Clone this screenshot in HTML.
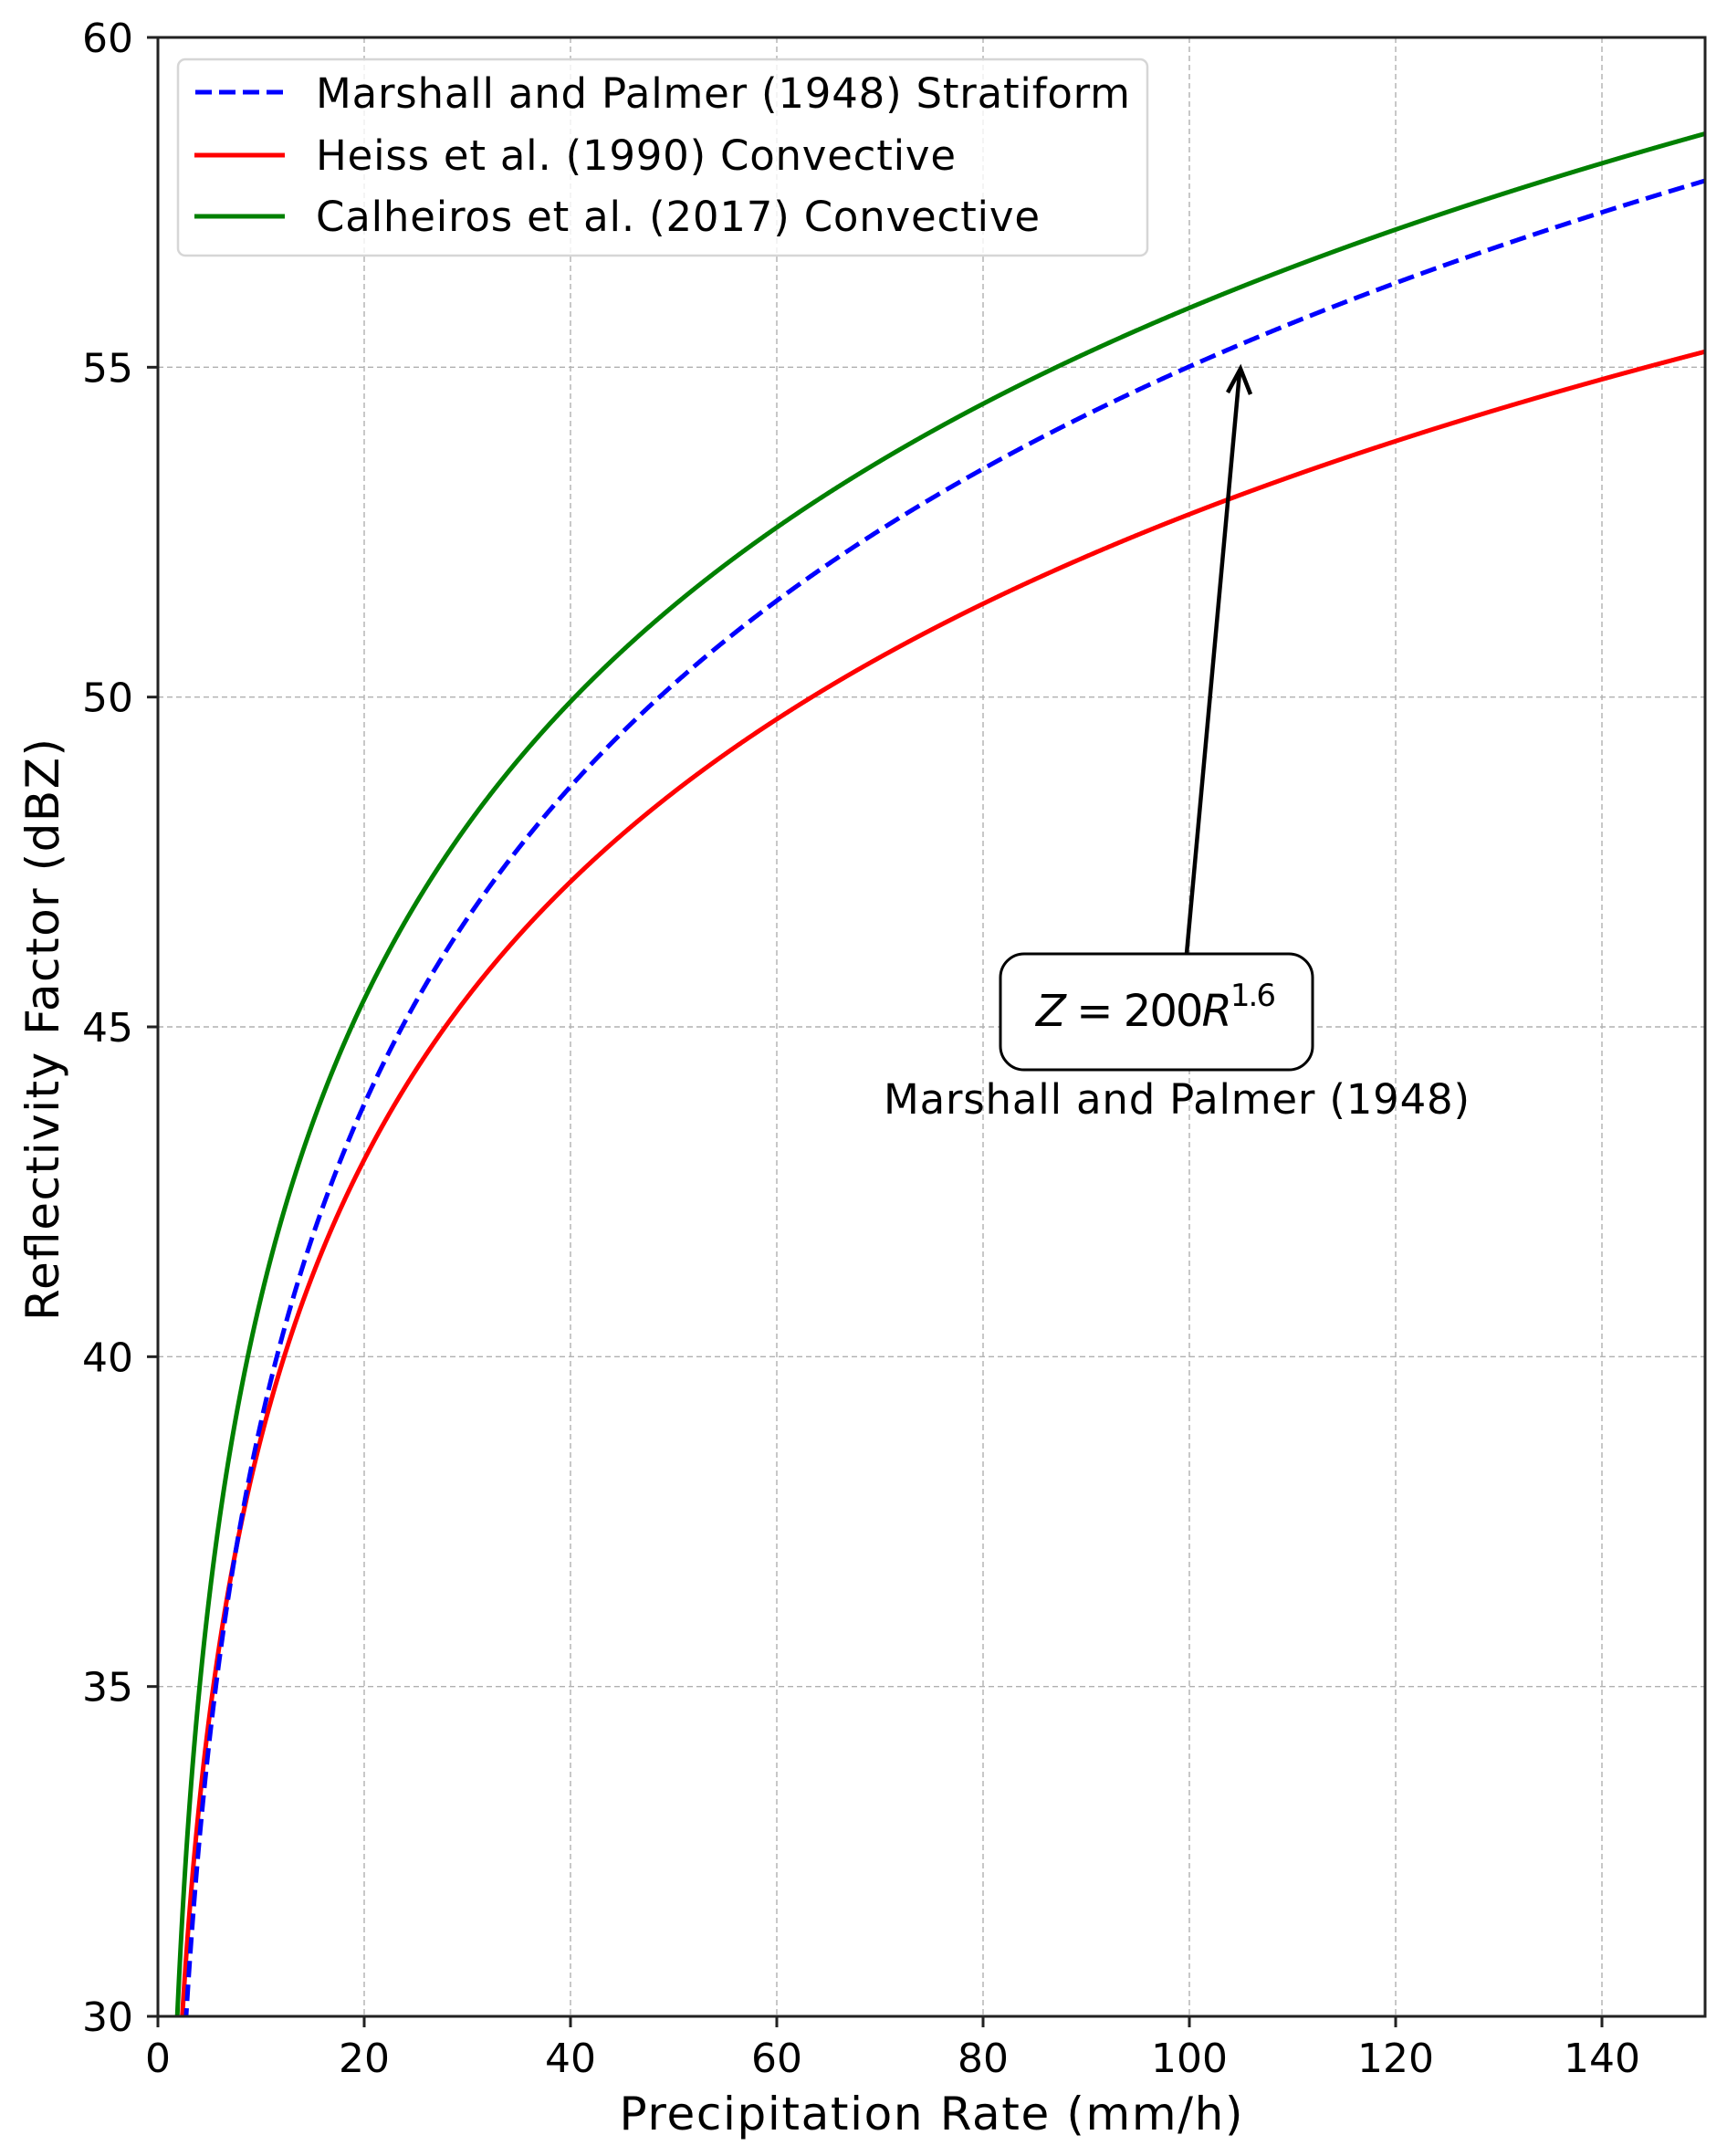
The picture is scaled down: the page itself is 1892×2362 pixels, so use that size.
<!DOCTYPE html>
<html><head><meta charset="utf-8"><style>
html,body{margin:0;padding:0;background:#fff;}
svg text{font-family:"DejaVu Sans","Liberation Sans",sans-serif;fill:#000;}
</style></head><body>
<svg id="s" width="1892" height="2357" viewBox="0 0 1892 2357" xmlns="http://www.w3.org/2000/svg">
<rect width="1892" height="2357" fill="#fff"/>
<g id="grid" stroke="#b0b0b0" stroke-width="1.4" stroke-dasharray="6,4" fill="none"></g>
<g id="curves" fill="none" stroke-width="5"></g>
<g id="ticks" stroke="#222" stroke-width="3"></g>
<rect x="173" y="41" width="1695" height="2168" fill="none" stroke="#222" stroke-width="3"/>
<g id="labels" font-size="44"></g>
<text x="1020" y="2333" font-size="50" text-anchor="middle" textLength="683">Precipitation Rate (mm/h)</text>
<text transform="translate(64,1128) rotate(-90)" font-size="50" text-anchor="middle" textLength="638">Reflectivity Factor (dBZ)</text>
<!-- legend -->
<rect x="195" y="65" width="1062" height="215" rx="8" fill="#fff" fill-opacity="0.8" stroke="#d6d6d6" stroke-width="2.5"/>
<line x1="214" y1="101" x2="311" y2="101" stroke="#0000ff" stroke-width="5" stroke-dasharray="18,8"/>
<line x1="213" y1="170" x2="312" y2="170" stroke="#ff0000" stroke-width="5"/>
<line x1="213" y1="237" x2="312" y2="237" stroke="#008000" stroke-width="5"/>
<text x="346" y="118" font-size="45" textLength="892">Marshall and Palmer (1948) Stratiform</text>
<text x="346" y="186" font-size="45" textLength="701">Heiss et al. (1990) Convective</text>
<text x="346" y="253" font-size="45" textLength="793">Calheiros et al. (2017) Convective</text>
<!-- annotation -->
<line x1="1300" y1="1045" x2="1358" y2="408" stroke="#000" stroke-width="4.5"/>
<path d="M1345,430 L1359,404 L1370,432" fill="none" stroke="#000" stroke-width="4.5"/>
<rect x="1096" y="1045" width="342" height="127" rx="26" fill="#fff" stroke="#000" stroke-width="3"/>
<text x="1135" y="1124" font-size="48" textLength="263"><tspan font-style="italic">Z</tspan> = 200<tspan font-style="italic">R</tspan><tspan font-size="34" dy="-22">1.6</tspan></text>
<text x="1289" y="1220" font-size="45" text-anchor="middle" textLength="642">Marshall and Palmer (1948)</text>
</svg>
<script>
var NS="http://www.w3.org/2000/svg";
function X(v){return 173+v*1695/150;}
function Y(v){return 2209-(v-30)*2168/30;}
function el(p,t,a){var e=document.createElementNS(NS,t);for(var k in a)e.setAttribute(k,a[k]);p.appendChild(e);return e;}
var g=document.getElementById('grid'),tk=document.getElementById('ticks'),lb=document.getElementById('labels');
for(var v=0;v<=140;v+=20){var x=X(v);if(v>0)el(g,'line',{x1:x,y1:41,x2:x,y2:2209});el(tk,'line',{x1:x,y1:2209,x2:x,y2:2221});var t=el(lb,'text',{x:x,y:2270,'text-anchor':'middle'});t.textContent=v;}
for(var v=30;v<=60;v+=5){var y=Y(v);if(v>30&&v<60)el(g,'line',{x1:173,y1:y,x2:1868,y2:y});el(tk,'line',{x1:161,y1:y,x2:173,y2:y});var t=el(lb,'text',{x:146,y:y+16,'text-anchor':'end'});t.textContent=v;}
var c=document.getElementById('curves');
function curve(a,b,col,dash){var d='',first=true;for(var i=0;i<=3000;i++){var R=0.5+i*0.05;var z=10*Math.log10(a)+10*b*Math.log10(R);if(z<29.5)continue;if(R>150)break;d+=(first?'M':'L')+X(R).toFixed(2)+','+Y(Math.max(z,29.5)).toFixed(2);first=false;}
var p=el(c,'path',{d:d,stroke:col});if(dash)p.setAttribute('stroke-dasharray',dash);}
var cp=el(c,'clipPath',{id:'cl'});el(cp,'rect',{x:173,y:41,width:1695,height:2168});c.setAttribute('clip-path','url(#cl)');
curve(389,1.5,'#008000');
curve(300,1.4,'#ff0000');
curve(200,1.6,'#0000ff','18,8');
</script>
</body></html>
